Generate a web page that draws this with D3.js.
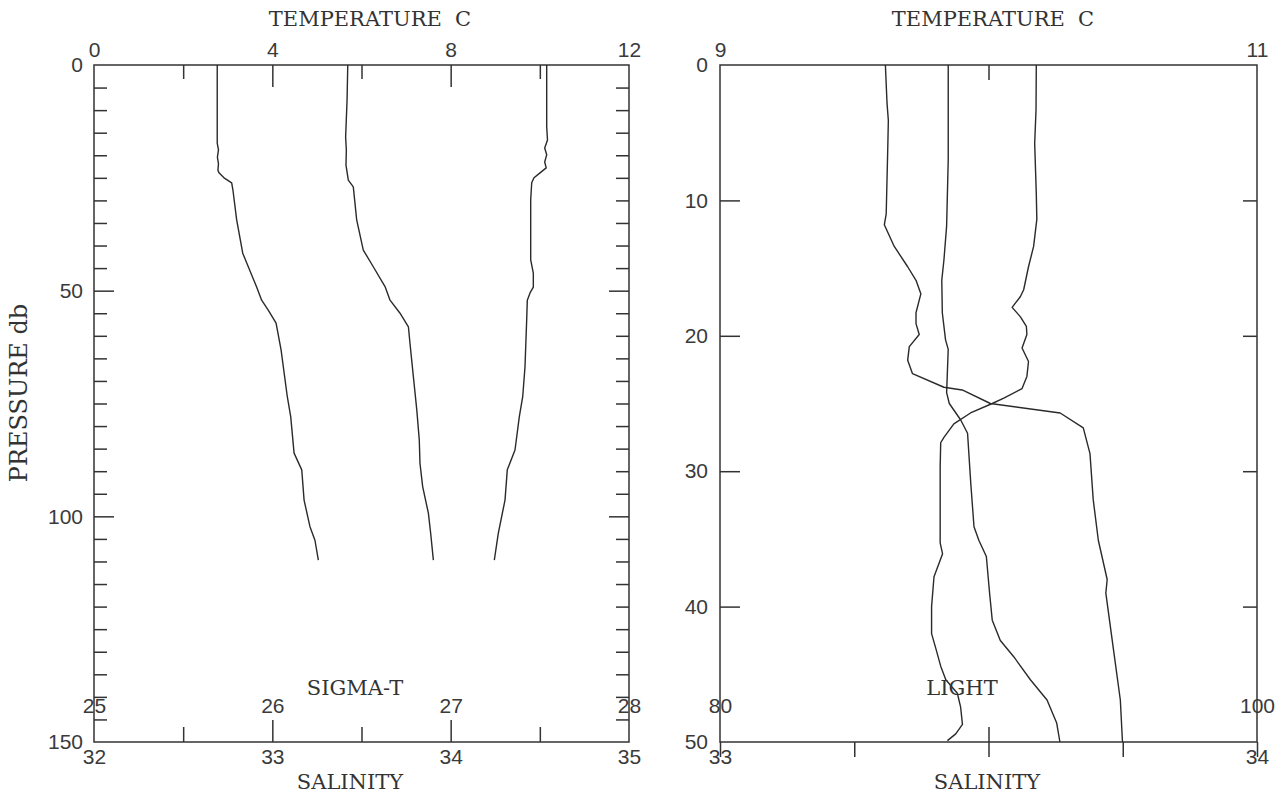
<!DOCTYPE html>
<html><head><meta charset="utf-8">
<script src="https://cdn.jsdelivr.net/npm/d3@7"></script>
<style>
body{margin:0;background:#fff}
svg{display:block;background:#fff}
.lbl{font-family:"DejaVu Serif",serif;font-size:21px;fill:#333;white-space:pre}
</style></head><body>
<svg id="c" width="1283" height="796"></svg>
<script>
// ---------- LEFT PANEL DATA (pressure db, value) ----------
const sigmaTPressure = [0,17.3,18.8,20.4,21.9,23.3,23.9,25.0,26.1,27.7,34.3,41.7,49.2,52.1,54.3,57.2,63.1,73.5,77.9,86.0,89.7,96.4,102.3,105.3,109.7];
const sigmaTValues   = [25.691,25.691,25.698,25.692,25.698,25.695,25.701,25.729,25.772,25.779,25.800,25.834,25.912,25.940,25.977,26.021,26.049,26.084,26.103,26.122,26.165,26.178,26.211,26.239,26.258];

const salinityLPressure = [0,7.8,16.0,18.8,22.2,25.5,27.0,34.3,41.0,44.7,49.1,52.1,55.0,58.0,61.7,69.1,76.4,83.1,88.3,93.4,99.3,103.8,109.7];
const salinityLValues   = [33.423,33.419,33.411,33.415,33.413,33.426,33.454,33.473,33.510,33.566,33.632,33.660,33.716,33.763,33.772,33.791,33.810,33.824,33.828,33.843,33.875,33.888,33.903];

const tempLPressure = [0,13.7,16.6,18.4,19.9,21.5,22.8,23.9,25.0,26.1,29.9,43.2,46.1,49.2,50.5,52.1,56.5,66.9,73.5,77.9,85.3,89.7,96.4,103.7,109.7];
const tempLValues   = [10.154,10.154,10.172,10.109,10.154,10.109,10.143,10.004,9.869,9.818,9.795,9.795,9.854,9.854,9.780,9.719,9.705,9.667,9.616,9.540,9.443,9.270,9.219,9.069,8.979];

// ---------- RIGHT PANEL DATA ----------
const lightPressure = [0,2.8,4.1,6.0,11.0,11.8,13.4,14.9,15.9,16.9,18.3,19.1,19.9,20.8,21.8,22.8,23.8,24.0,25.0,25.7,26.8,28.7,32.1,35.1,38.0,39.0,43.4,46.9,50];
const lightValues   = [86.16,86.22,86.27,86.25,86.19,86.12,86.49,86.99,87.30,87.48,87.30,87.30,87.42,87.05,86.99,87.17,88.34,89.02,90.07,92.67,93.53,93.78,93.90,94.09,94.42,94.37,94.67,94.91,94.99];

const salinityRPressure = [0,7.0,11.9,14.4,15.9,18.3,20.3,21.0,24.2,25.0,26.2,27.2,30.9,34.1,35.1,36.3,39.0,41.0,42.5,43.7,45.4,46.9,48.6,50];
const salinityRValues   = [33.425,33.425,33.422,33.417,33.413,33.414,33.420,33.425,33.422,33.427,33.448,33.461,33.467,33.473,33.482,33.496,33.502,33.507,33.522,33.547,33.578,33.609,33.627,33.633];

const tempRPressure = [0,3.3,5.8,9.5,11.4,13.4,14.9,16.6,17.1,17.9,18.6,19.3,19.9,20.9,21.9,23.0,23.9,24.6,25.0,25.7,26.5,27.5,27.9,29.7,35.3,36.1,37.8,40.0,42.0,43.1,44.4,45.4,46.4,47.4,48.7,49.4,49.9];
const tempRValues   = [10.178,10.177,10.172,10.178,10.180,10.168,10.149,10.131,10.119,10.088,10.119,10.141,10.143,10.125,10.149,10.143,10.125,10.057,10.014,9.933,9.871,9.834,9.822,9.820,9.820,9.829,9.797,9.788,9.788,9.804,9.822,9.841,9.884,9.896,9.903,9.878,9.847];

// ---------- TICK DEFINITIONS ----------
const tempLLabels = [0,4,8,12], tempLMajor = [4,8], tempLMinor = [2,6,10];
const salLLabels = [32,33,34,35], salLMajor = [33,34], salLMinor = [32.5,33.5,34.5];
const sigLLabels = [25,26,27,28];
const presLLabels = [0,50,100,150];
const presLMajor = [50,100];
const presLMinor = d3.range(5,150,5).filter(v => v % 50 !== 0);

const tempRLabels = [9,11], tempRTicks = [10];
const salRLabels = [33,34], salRTicks = [33,33.25,33.5,33.75,34];
const lightRLabels = [80,100], lightRTicks = [90];
const presRLabels = [0,10,20,30,40,50], presRTicks = [10,20,30,40];

const svg = d3.select("#c");
const INK = "#333";

// ---------- SCALES ----------
const L = {x0:94, x1:629, y0:65, y1:742};
const R = {x0:720, x1:1257, y0:65, y1:742};

const pL = d3.scaleLinear().domain([0,150]).range([L.y0,L.y1]);
const tL = d3.scaleLinear().domain([0,12]).range([L.x0,L.x1]);
const sL = d3.scaleLinear().domain([32,35]).range([L.x0,L.x1]);
const gL = d3.scaleLinear().domain([25,28]).range([L.x0,L.x1]);

const pR = d3.scaleLinear().domain([0,50]).range([R.y0,R.y1]);
const tR = d3.scaleLinear().domain([9,11]).range([R.x0,R.x1]);
const sR = d3.scaleLinear().domain([33,34]).range([R.x0,R.x1]);
const lR = d3.scaleLinear().domain([80,100]).range([R.x0,R.x1]);

function style(g){
  g.select(".domain").remove();
  g.selectAll("line").attr("stroke",INK).attr("stroke-width",1.5);
  g.attr("font-family",'"Liberation Sans",Arial,sans-serif').attr("font-size",21);
  g.selectAll("text").attr("fill","#3a3a3a");
}
function ticks(axisFn, scale, values, size, tx, ty){
  svg.append("g").attr("transform",`translate(${tx},${ty})`)
    .call(axisFn(scale).tickValues(values).tickSize(size).tickFormat(""))
    .call(style);
}
function labels(axisFn, scale, values, pad, tx, ty){
  svg.append("g").attr("transform",`translate(${tx},${ty})`)
    .call(axisFn(scale).tickValues(values).tickSize(0).tickPadding(pad).tickFormat(d3.format("d")))
    .call(style);
}
function frame(b){
  svg.append("rect").attr("x",b.x0).attr("y",b.y0).attr("width",b.x1-b.x0).attr("height",b.y1-b.y0)
    .attr("fill","none").attr("stroke",INK).attr("stroke-width",1.5);
}
function curve(pArr, vArr, xs, ys){
  const pts = pArr.map((p,i)=>[vArr[i],p]);
  svg.append("path").datum(pts)
    .attr("d", d3.line().x(d=>xs(d[0])).y(d=>ys(d[1])))
    .attr("fill","none").attr("stroke","#2a2a2a").attr("stroke-width",1.4).attr("stroke-linejoin","round");
}
function text(str, x, y, rot, size){
  const t = svg.append("text").attr("class","lbl").attr("text-anchor","middle").attr("dominant-baseline","central").text(str);
  if(size) t.style("font-size", size+"px");
  if(rot) t.attr("transform",`translate(${x},${y}) rotate(${rot})`);
  else t.attr("x",x).attr("y",y);
}

// ---------- LEFT PANEL ----------
frame(L);
ticks(d3.axisBottom, tL, tempLMinor, 14, 0, L.y0);
ticks(d3.axisBottom, tL, tempLMajor, 22, 0, L.y0);
labels(d3.axisTop, tL, tempLLabels, 8, 0, L.y0);
ticks(d3.axisRight, pL, presLMinor, 13, L.x0, 0);
ticks(d3.axisRight, pL, presLMajor, 20, L.x0, 0);
ticks(d3.axisLeft, pL, presLMinor, 13, L.x1, 0);
ticks(d3.axisLeft, pL, presLMajor, 20, L.x1, 0);
labels(d3.axisLeft, pL, presLLabels, 11, L.x0, 0);
ticks(d3.axisTop, sL, salLMinor, 15, 0, L.y1);
ticks(d3.axisTop, sL, salLMajor, 22, 0, L.y1);
labels(d3.axisBottom, sL, salLLabels, 7, 0, L.y1);
labels(d3.axisTop, gL, sigLLabels, 29, 0, L.y1);

curve(sigmaTPressure, sigmaTValues, gL, pL);
curve(salinityLPressure, salinityLValues, sL, pL);
curve(tempLPressure, tempLValues, tL, pL);

text("TEMPERATURE  C", 370, 19);
text("SIGMA-T", 355, 688);
text("SALINITY", 350, 782);
text("PRESSURE db", 19, 393, -90, 24);

// ---------- RIGHT PANEL ----------
frame(R);
ticks(d3.axisBottom, tR, tempRTicks, 15, 0, R.y0);
labels(d3.axisTop, tR, tempRLabels, 8, 0, R.y0);
ticks(d3.axisRight, pR, presRTicks, 20, R.x0, 0);
ticks(d3.axisLeft, pR, presRTicks, 14, R.x1, 0);
labels(d3.axisLeft, pR, presRLabels, 12, R.x0, 0);
ticks(d3.axisBottom, sR, salRTicks, 15, 0, R.y1);
labels(d3.axisBottom, sR, salRLabels, 7, 0, R.y1);
ticks(d3.axisTop, lR, lightRTicks, 15, 0, R.y1);
labels(d3.axisTop, lR, lightRLabels, 29, 0, R.y1);

curve(lightPressure, lightValues, lR, pR);
curve(salinityRPressure, salinityRValues, sR, pR);
curve(tempRPressure, tempRValues, tR, pR);

text("TEMPERATURE  C", 993, 19);
text("LIGHT", 962, 688);
text("SALINITY", 987, 782);
</script></body></html>
